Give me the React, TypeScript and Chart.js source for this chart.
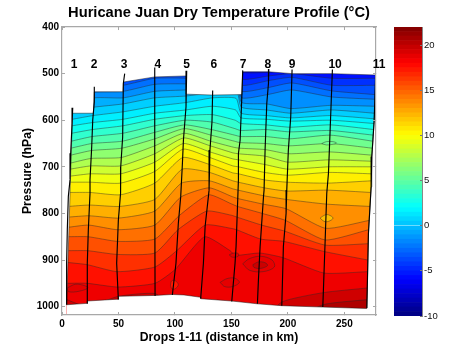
import React, { useEffect, useRef } from "react";
import { Chart, registerables } from "chart.js";

Chart.register(...registerables);

const FONT = "'Liberation Sans', Arial, sans-serif";
const AXIS = "#a8a8a8";

// Temperature of each contour (deg C)
const levels = [-7, -6, -5, -4, -3, -2, -1, 0, 1, 2, 3, 4, 5, 6, 7, 8, 9, 10, 11, 12, 13, 14, 15, 16, 17, 18, 19, 20];

// Pressure (hPa) of each contour at drops 1..6, a column just before drop 7, then drops 7..11
const tM7 = [450, 450, 450, 450, 450, 450, 450, 450, 450, 450, 450, 450];
const tM6 = [500, 490, 495, 470, 470, 490, 470, 497, 497, 493, 497, 500];
const tM5 = [515, 505, 505, 485, 485, 500, 480, 512, 505, 500, 510, 510];
const tM4 = [530, 518, 515, 498, 498, 510, 490, 525, 515, 508, 525, 525];
const tM3 = [545, 530, 525, 510, 510, 518, 500, 538, 530, 520, 537, 545];
const tM2 = [558, 540, 538, 523, 522, 526, 510, 552, 545, 535, 550, 555];
const tM1 = [570, 552, 552, 538, 535, 533, 522, 562, 565, 575, 568, 570];
const t0 = [580, 572, 565, 552, 548, 541, 535, 572, 578, 585, 578, 585];
const t1 = [598, 590, 582, 570, 562, 552, 553, 585, 590, 595, 590, 597];
const t2 = [612, 605, 598, 585, 578, 570, 578, 595, 598, 602, 600, 607];
const t3 = [628, 620, 612, 598, 590, 588, 600, 607, 610, 615, 610, 620];
const t4 = [645, 635, 628, 612, 600, 604, 618, 622, 620, 625, 622, 632];
const t5 = [660, 650, 645, 626, 610, 620, 632, 635, 635, 640, 632, 645];
const t6 = [675, 665, 660, 640, 618, 632, 645, 648, 650, 655, 650, 660];
const t7 = [692, 682, 680, 655, 628, 645, 658, 660, 663, 672, 668, 675];
const t8 = [705, 698, 698, 672, 638, 655, 670, 672, 677, 690, 685, 688];
const t9 = [720, 715, 715, 690, 650, 668, 683, 685, 695, 705, 700, 700];
const t10 = [733, 733, 735, 710, 662, 680, 698, 700, 712, 718, 712, 715];
const t11 = [755, 755, 760, 735, 680, 695, 713, 715, 728, 733, 735, 730];
const t12 = [785, 782, 785, 770, 705, 712, 730, 733, 745, 752, 750, 755];
const t13 = [808, 805, 810, 795, 735, 730, 747, 750, 762, 770, 780, 785];
const t14 = [830, 825, 835, 825, 765, 745, 764, 768, 780, 790, 832, 815];
const t15 = [850, 850, 860, 855, 805, 760, 780, 785, 800, 815, 857, 835];
const t16 = [880, 880, 888, 885, 835, 795, 804, 808, 825, 838, 868, 865];
const t17 = [905, 910, 925, 915, 880, 825, 832, 835, 855, 860, 882, 900];
const t18 = [950, 950, 958, 950, 920, 850, 880, 890, 885, 895, 928, 925];
const t19 = [985, 1000, 978, 972, 1000, 1010, 1030, 1030, 1040, 990, 970, 960];
const t20 = [1040, 1040, 1040, 1040, 1040, 1040, 1040, 1040, 1040, 1040, 996, 985];
const contourRows = [tM7, tM6, tM5, tM4, tM3, tM2, tM1, t0, t1, t2, t3, t4, t5, t6, t7, t8, t9, t10, t11, t12, t13, t14, t15, t16, t17, t18, t19, t20];

// Descent track of each drop: [distance km, pressure hPa]
const drop1 = [[9.5, 573], [8.9, 607], [7.7, 671], [7.1, 728], [5.6, 764], [4.7, 835], [4.1, 907], [4.1, 996]];
const drop2 = [[28.6, 528], [28.6, 561], [27.2, 600], [26.3, 657], [24.8, 728], [24.8, 757], [23.3, 836], [22.4, 907], [22.4, 994]];
const drop3 = [[55.5, 500], [54.3, 521], [53.7, 636], [52, 700], [51.7, 750], [52, 757], [49.9, 814], [48.4, 907], [49.9, 985]];
const drop4 = [[82.1, 487], [82.1, 728], [82.4, 977]];
const drop5 = [[110.4, 494], [109.8, 571], [107.5, 643], [106.6, 693], [105.1, 764], [103, 821], [100.9, 907], [97.7, 975]];
const drop6 = [[133.4, 536], [132.8, 603], [131, 664], [130.2, 750], [129.6, 764], [126.7, 828], [125.2, 907], [122.8, 982]];
const drop7 = [[160, 493], [159.1, 557], [157.7, 643], [156.2, 671], [156.2, 728], [154.1, 871], [153.2, 907], [150.3, 989]];
const drop8 = [[183.1, 490], [182.8, 521], [181.3, 564], [179.8, 664], [178.9, 750], [178.4, 764], [175.4, 871], [173.9, 943], [173, 994]];
const drop9 = [[203.7, 491], [202.5, 593], [200.4, 664], [199, 750], [198.4, 800], [196, 871], [194.6, 998]];
const drop10 = [[239.4, 491], [237.4, 621], [235.9, 714], [234.4, 757], [233, 857], [230.9, 1001]];
const drop11 = [[277.8, 491], [276.4, 600], [274.3, 678], [273.7, 743], [271.3, 843], [269.9, 1003]];
const dropTracks = [drop1, drop2, drop3, drop4, drop5, drop6, drop7, drop8, drop9, drop10, drop11];
const columnBeforeDrop7 = [[155, 493], [154, 557], [152.7, 643], [151.2, 671], [151.2, 728], [149.1, 871], [148.2, 907], [145.3, 989]];
const columnTracks = [drop1, drop2, drop3, drop4, drop5, drop6, columnBeforeDrop7, drop7, drop8, drop9, drop10, drop11];

// Outline of the sampled area
const topOutline = [[4.1, 996], [9.3, 585], [27.8, 585], [28.6, 539], [54, 539], [54.5, 518], [82.1, 507], [110, 505], [109.6, 544], [133, 546], [159.3, 545], [160, 496], [183.1, 496], [203.7, 500], [239.4, 500], [277.8, 503]];
const bottomOutline = [[4.1, 996], [22.4, 993], [22.4, 988], [49.9, 984], [49.9, 978], [82.4, 976], [97.7, 974], [108, 975], [122.8, 980], [122.8, 983], [150.3, 988], [173, 994], [194.6, 998], [230.9, 1001], [269.9, 1004], [271.3, 843], [273.7, 743], [274.3, 678], [276.4, 600], [277.8, 503]];

// Closed contours
const islandTemps = [5.5, 12, 18.8, 19.6, 18.8, 17.3, 18.8, 18.8];
const islandA = [[230, 650], [234, 646], [240, 646], [243, 649], [239, 652], [234, 653], [230, 650]];
const islandB = [[228.5, 810], [233, 803], [236, 803], [240, 810], [236, 817], [232, 817], [228.5, 810]];
const islandC = [[160, 908], [166, 897], [176, 892], [186, 900], [188, 915], [178, 925], [166, 922], [160, 908]];
const islandD = [[169, 910], [174, 904], [180, 906], [182, 912], [176, 918], [170, 916], [169, 910]];
const islandE = [[140, 948], [146, 940], [153, 939], [157, 948], [151, 957], [144, 957], [140, 948]];
const islandF = [[96, 954], [97, 945], [100, 944], [103, 953], [100, 962], [97, 961], [96, 954]];
const islandG = [[4.5, 960], [12, 952], [20, 955], [23, 960], [15, 967], [6, 968], [4.5, 960]];
const islandH = [[148, 889], [152, 885], [156, 886], [156, 892], [151, 894], [148, 889]];
const islands = [islandA, islandB, islandC, islandD, islandE, islandF, islandG, islandH];

// Labels
const xTicksStep = 50;
const yTicksStep = 100;
const dropNames = ["1", "2", "3", "4", "5", "6", "7", "8", "9", "10", "11"];
const dropNameX = [10.6, 28.3, 55, 84.8, 110.4, 134.4, 160.3, 182.3, 203.6, 241.8, 280.7];
const dropNameP = 480;
const barEdges = [-10, -9.5, -9, -8.5, -8, -7.5, -7, -6.5, -6, -5.5, -5, -4.5, -4, -3.5, -3, -2.5, -2, -1.5, -1, -0.5, 0, 0.5, 1, 1.5, 2, 2.5, 3, 3.5, 4, 4.5, 5, 5.5, 6, 6.5, 7, 7.5, 8, 8.5, 9, 9.5, 10, 10.5, 11, 11.5, 12, 12.5, 13, 13.5, 14, 14.5, 15, 15.5, 16, 16.5, 17, 17.5, 18, 18.5, 19, 19.5, 20, 20.5, 21, 21.5, 22];

function jet(t: number): string {
  const v = (t + 10) / 32;
  const c = (a: number) => Math.round(255 * Math.max(0, Math.min(1, a)));
  return `rgb(${c(Math.min(4 * v - 1.5, -4 * v + 4.5))},${c(Math.min(4 * v - 0.5, -4 * v + 3.5))},${c(Math.min(4 * v + 0.5, -4 * v + 2.5))})`;
}

function xAt(track: number[][], p: number): number {
  if (p <= track[0][1]) return track[0][0];
  for (let i = 1; i < track.length; i++) {
    if (p <= track[i][1]) {
      const [x0, p0] = track[i - 1];
      const [x1, p1] = track[i];
      return x0 + ((x1 - x0) * (p - p0)) / (p1 - p0);
    }
  }
  return track[track.length - 1][0];
}

const toXY = (pts: number[][]) => pts.map(([x, y]) => ({ x, y }));

function buildDatasets() {
  const out: any[] = [];
  contourRows.forEach((row, i) => {
    out.push({
      label: `${levels[i]} C`,
      data: row.map((p, d) => ({ x: xAt(columnTracks[d], p), y: p })),
      showLine: true, pointRadius: 0, tension: 0.18,
      borderColor: i === 0 ? "rgba(0,0,0,0)" : "rgba(40,40,40,0.62)",
      borderWidth: 0.7,
      backgroundColor: jet(levels[i] + 0.5),
      fill: { value: 1018 },
    });
  });
  islands.forEach((pts, i) => {
    out.push({
      label: `closed ${islandTemps[i]}`,
      data: toXY(pts), showLine: true, pointRadius: 0, tension: 0.35,
      borderColor: "rgba(40,40,40,0.62)", borderWidth: 0.7,
      backgroundColor: jet(islandTemps[i]), fill: "shape",
    });
  });
  out.push({
    label: "top", data: toXY(topOutline), showLine: true, pointRadius: 0,
    borderColor: "rgba(20,20,20,0.7)", borderWidth: 0.7, backgroundColor: "#fff", fill: { value: 400 },
  });
  out.push({
    label: "bottom", data: toXY(bottomOutline), showLine: true, pointRadius: 0,
    borderColor: "rgba(20,20,20,0.7)", borderWidth: 0.7, backgroundColor: "#fff", fill: { value: 1018 },
  });
  dropTracks.forEach((tr, i) => {
    out.push({
      label: `drop ${dropNames[i]}`, data: toXY(tr), showLine: true, pointRadius: 0,
      borderColor: "#000", borderWidth: 1.15, fill: false,
    });
  });
  out.forEach((d, i) => { d.order = out.length - i; });
  return out;
}

const dropLabelPlugin = {
  id: "dropLabels",
  afterDraw(chart: any) {
    const { ctx, scales } = chart;
    ctx.save();
    ctx.font = `bold 12px ${FONT}`;
    ctx.fillStyle = "#000";
    ctx.textAlign = "center";
    ctx.textBaseline = "middle";
    dropNames.forEach((n, i) => ctx.fillText(n, scales.x.getPixelForValue(dropNameX[i]), scales.y.getPixelForValue(dropNameP)));
    ctx.restore();
  },
};

const gridOpts = { drawOnChartArea: false, drawTicks: true, tickLength: -3, color: AXIS, z: 2 };
const borderOpts = { color: AXIS, width: 1.2, z: 2 };
const plain = (v: any) => String(v);

export default function App() {
  const mainRef = useRef<HTMLCanvasElement>(null);
  const barRef = useRef<HTMLCanvasElement>(null);

  useEffect(() => {
    const main = new Chart(mainRef.current!, {
      type: "scatter",
      data: { datasets: buildDatasets() },
      plugins: [dropLabelPlugin],
      options: {
        animation: false, responsive: false,
        layout: { padding: { left: 0, right: 98, top: 0, bottom: 0 } },
        plugins: {
          legend: { display: false }, tooltip: { enabled: false },
          filler: { propagate: false, drawTime: "beforeDatasetDraw" },
          title: {
            display: true, fullSize: false,
            text: "Huricane Juan Dry Temperature Profile (°C)",
            color: "#000", font: { family: FONT, weight: "bold", size: 14.7, lineHeight: 1.2 },
            padding: { top: 4, bottom: 5.4 },
          },
        },
        scales: {
          x: {
            type: "linear", min: 0, max: 278, position: "bottom",
            grid: gridOpts, border: borderOpts,
            ticks: { stepSize: xTicksStep, includeBounds: false, padding: 6, maxRotation: 0, color: "#000", callback: plain, font: { family: FONT, weight: "bold", size: 10 } },
            title: { display: true, text: "Drops 1-11 (distance in km)", color: "#000", font: { family: FONT, weight: "bold", size: 12.2 }, padding: { top: 0, bottom: 10 } },
            afterFit: (s: any) => { s.height = 40; },
          },
          y: {
            type: "linear", min: 400, max: 1018, reverse: true, position: "left",
            grid: gridOpts, border: borderOpts,
            ticks: { stepSize: yTicksStep, includeBounds: false, padding: 6, color: "#000", callback: plain, font: { family: FONT, weight: "bold", size: 10 } },
            title: { display: true, text: "Pressure (hPa)", color: "#000", font: { family: FONT, weight: "bold", size: 12.2 }, padding: { top: 20, bottom: 0 } },
            afterFit: (s: any) => { s.width = 62; },
          },
          x2: {
            type: "linear", min: 0, max: 278, position: "top",
            grid: gridOpts, border: borderOpts,
            ticks: { stepSize: xTicksStep, includeBounds: false, display: false },
            afterFit: (s: any) => { s.height = 0; },
          },
          y2: {
            type: "linear", min: 400, max: 1018, reverse: true, position: "right",
            grid: gridOpts, border: borderOpts,
            ticks: { stepSize: yTicksStep, includeBounds: false, display: false },
            afterFit: (s: any) => { s.width = 0; },
          },
        },
      } as any,
    });

    const bar = new Chart(barRef.current!, {
      type: "bar",
      data: {
        labels: [""],
        datasets: barEdges.slice(0, -1).map((lo, i) => ({
          label: `${lo}`,
          data: [[lo, barEdges[i + 1]]],
          backgroundColor: jet(lo + 0.25),
          borderWidth: 0,
          barPercentage: 1,
          categoryPercentage: 1,
          grouped: false,
        })) as any,
      },
      options: {
        animation: false, responsive: false,
        layout: { padding: { left: 14, right: 0, top: 27, bottom: 39 } },
        plugins: { legend: { display: false }, tooltip: { enabled: false }, title: { display: false } },
        scales: {
          x: { display: false },
          y: {
            type: "linear", min: -10, max: 22, position: "right",
            grid: { drawOnChartArea: false, drawTicks: true, tickLength: -2, color: "#777", z: 2 },
            border: { color: "#888", width: 1, z: 2 },
            ticks: { stepSize: 5, includeBounds: false, padding: 4, color: "#111", font: { family: FONT, size: 9.5 } },
            afterFit: (s: any) => { s.width = 52; },
          },
        },
      } as any,
    });

    return () => { main.destroy(); bar.destroy(); };
  }, []);

  return (
    <div style={{ position: "absolute", left: 0, top: 0, width: 474, height: 355, background: "#fff" }}>
      <canvas ref={mainRef} width={474} height={355} style={{ position: "absolute", left: 0, top: 0, width: 474, height: 355 }} />
      <canvas ref={barRef} width={94} height={355} style={{ position: "absolute", left: 380, top: 0, width: 94, height: 355 }} />
    </div>
  );
}
